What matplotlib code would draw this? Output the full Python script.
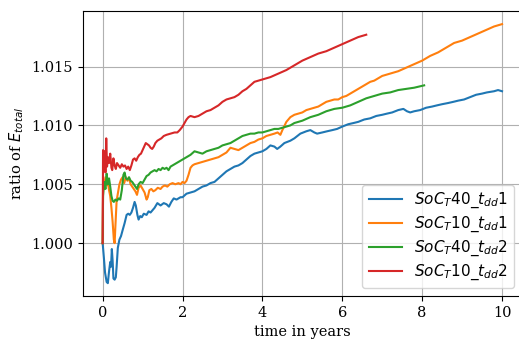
import matplotlib

matplotlib.use("Agg")
import matplotlib.pyplot as plt

plt.rcParams["font.family"] = "serif"
plt.rcParams["font.size"] = 10.5

# SoC_T40_t_dd1 (blue)
blue_t = [0.00, 0.03, 0.06, 0.10, 0.13, 0.16, 0.19, 0.21, 0.23, 0.25, 0.27, 0.30,
          0.33, 0.35, 0.38, 0.42, 0.46, 0.50, 0.55, 0.60, 0.64, 0.68, 0.72, 0.76,
          0.80, 0.83, 0.87, 0.90, 0.94, 0.98, 1.03, 1.10, 1.15, 1.20, 1.25, 1.30,
          1.37, 1.45, 1.53, 1.60, 1.66, 1.72, 1.78, 1.85, 1.95,
          2.00, 2.10, 2.20, 2.30, 2.40, 2.50, 2.60, 2.70, 2.80, 2.90, 3.00, 3.10,
          3.20, 3.30, 3.40, 3.50, 3.60, 3.70, 3.80, 3.90, 4.00, 4.10, 4.20, 4.30,
          4.37, 4.45, 4.55, 4.70, 4.80, 4.95, 5.10, 5.20, 5.30, 5.37, 5.50, 5.62,
          5.75, 5.87, 6.00, 6.15, 6.28, 6.40, 6.55, 6.70, 6.85, 7.00, 7.12, 7.25,
          7.40, 7.53, 7.62, 7.70, 7.80, 7.95, 8.10, 8.25, 8.37, 8.50, 8.65, 8.78,
          8.90, 9.05, 9.20, 9.35, 9.50, 9.62, 9.80, 9.90, 10.00]
blue_v = [1.0000, 0.9988, 0.9975, 0.9967, 0.9966, 0.9976, 0.9984, 0.9980, 0.9995,
          0.9985, 0.9970, 0.9969, 0.9971, 0.9980, 0.9996, 1.0003, 1.0006, 1.0011,
          1.0017, 1.0024, 1.0025, 1.0024, 1.0026, 1.0030, 1.0035, 1.0032, 1.0024,
          1.0020, 1.0023, 1.0022, 1.0025, 1.0024, 1.0027, 1.0026, 1.0028, 1.0030,
          1.0034, 1.0032, 1.0034, 1.0033, 1.0031, 1.0035, 1.0038, 1.0037, 1.0039,
          1.0039, 1.0042, 1.0043, 1.0044, 1.0046, 1.0048, 1.0049, 1.0051, 1.0052,
          1.0055, 1.0058, 1.0061, 1.0063, 1.0065, 1.0066, 1.0068, 1.0071, 1.0074,
          1.0076, 1.0077, 1.0078, 1.0080, 1.0083, 1.0082, 1.0080, 1.0082, 1.0085,
          1.0087, 1.0089, 1.0093, 1.0095, 1.0096, 1.0094, 1.0093, 1.0094, 1.0095,
          1.0096, 1.0097, 1.0099, 1.0101, 1.0102, 1.0103, 1.0105, 1.0106, 1.0108,
          1.0109, 1.0110, 1.0111, 1.0113, 1.0114, 1.0112, 1.0111, 1.0112, 1.0113,
          1.0115, 1.0116, 1.0117, 1.0118, 1.0119, 1.0120, 1.0121, 1.0122, 1.0124,
          1.0126, 1.0127, 1.0128, 1.0129, 1.0130, 1.0129]

# SoC_T10_t_dd1 (orange)
orange_t = [0.00, 0.01, 0.04, 0.07, 0.10, 0.13, 0.16, 0.19, 0.22, 0.25, 0.28, 0.30,
            0.32, 0.35, 0.38, 0.42, 0.46, 0.50, 0.54, 0.58, 0.62, 0.66, 0.70, 0.74,
            0.78, 0.82, 0.86, 0.90, 0.95, 1.00, 1.05, 1.10, 1.13, 1.17, 1.22, 1.27,
            1.32, 1.38, 1.45, 1.50, 1.56, 1.62, 1.68, 1.75, 1.82, 1.90, 1.95, 2.00,
            2.05, 2.10, 2.15, 2.20, 2.25, 2.30, 2.40, 2.50, 2.60, 2.70, 2.80, 2.90,
            3.00, 3.10, 3.20, 3.30, 3.40, 3.50, 3.60, 3.70, 3.80, 3.90, 4.00, 4.10,
            4.20, 4.30, 4.38, 4.45, 4.50, 4.60, 4.70, 4.80, 4.90, 5.00, 5.10, 5.20,
            5.30, 5.40, 5.50, 5.60, 5.70, 5.80, 5.90, 6.00, 6.10, 6.20, 6.30, 6.40,
            6.50, 6.60, 6.70, 6.80, 6.90, 7.00, 7.20, 7.40, 7.60, 7.80, 8.00, 8.20,
            8.40, 8.60, 8.80, 9.00, 9.20, 9.40, 9.60, 9.80, 10.00]
orange_v = [1.0000, 1.0045, 1.0050, 1.0056, 1.0049, 1.0052, 1.0045, 1.0040, 1.0030,
            1.0018, 1.0003, 1.0000, 1.0015, 1.0036, 1.0042, 1.0050, 1.0054, 1.0056,
            1.0051, 1.0056, 1.0053, 1.0055, 1.0050, 1.0048, 1.0046, 1.0044, 1.0041,
            1.0047, 1.0049, 1.0046, 1.0043, 1.0037, 1.0039, 1.0045, 1.0046, 1.0044,
            1.0045, 1.0047, 1.0046, 1.0048, 1.0049, 1.0048, 1.0050, 1.0051, 1.0050,
            1.0051, 1.0050, 1.0052, 1.0051, 1.0053, 1.0058, 1.0064, 1.0066, 1.0067,
            1.0068, 1.0069, 1.0070, 1.0071, 1.0072, 1.0073, 1.0075, 1.0077, 1.0081,
            1.0080, 1.0079, 1.0081, 1.0083, 1.0085, 1.0086, 1.0088, 1.0089, 1.0091,
            1.0092, 1.0093, 1.0094, 1.0092, 1.0096, 1.0103, 1.0107, 1.0109, 1.0110,
            1.0111, 1.0113, 1.0114, 1.0115, 1.0116, 1.0118, 1.0120, 1.0121, 1.0122,
            1.0122, 1.0124, 1.0125, 1.0127, 1.0129, 1.0131, 1.0133, 1.0135, 1.0137,
            1.0138, 1.0140, 1.0142, 1.0144, 1.0146, 1.0149, 1.0152, 1.0155, 1.0159,
            1.0162, 1.0166, 1.0170, 1.0172, 1.0175, 1.0178, 1.0181, 1.0184, 1.0186]

# SoC_T40_t_dd2 (green)
green_t = [0.00, 0.01, 0.04, 0.07, 0.10, 0.13, 0.16, 0.19, 0.22, 0.25, 0.28, 0.32,
           0.36, 0.40, 0.44, 0.48, 0.52, 0.55, 0.58, 0.62, 0.66, 0.70, 0.74, 0.78,
           0.82, 0.86, 0.90, 0.95, 1.00, 1.05, 1.10, 1.15, 1.20, 1.25, 1.30, 1.35,
           1.40, 1.45, 1.50, 1.55, 1.60, 1.65, 1.70, 1.75, 1.80, 1.90, 2.00, 2.10,
           2.20, 2.30, 2.40, 2.50, 2.60, 2.70, 2.80, 2.90, 3.00, 3.10, 3.20, 3.30,
           3.40, 3.50, 3.60, 3.70, 3.80, 3.90, 4.00, 4.10, 4.20, 4.30, 4.40, 4.50,
           4.60, 4.70, 4.80, 4.90, 5.00, 5.20, 5.40, 5.60, 5.80, 6.00, 6.20, 6.40,
           6.60, 6.80, 7.00, 7.20, 7.40, 7.60, 7.80, 8.05]
green_v = [1.0000, 1.0040, 1.0052, 1.0046, 1.0059, 1.0050, 1.0055, 1.0048, 1.0040,
           1.0036, 1.0035, 1.0037, 1.0036, 1.0038, 1.0037, 1.0045, 1.0058, 1.0060,
           1.0055, 1.0054, 1.0056, 1.0053, 1.0052, 1.0050, 1.0048, 1.0046, 1.0050,
           1.0052, 1.0051, 1.0054, 1.0057, 1.0058, 1.0060, 1.0061, 1.0062, 1.0061,
           1.0063, 1.0062, 1.0064, 1.0063, 1.0064, 1.0062, 1.0065, 1.0066, 1.0067,
           1.0069, 1.0071, 1.0073, 1.0075, 1.0078, 1.0077, 1.0076, 1.0078, 1.0079,
           1.0080, 1.0081, 1.0083, 1.0084, 1.0085, 1.0087, 1.0089, 1.0091, 1.0092,
           1.0093, 1.0093, 1.0094, 1.0094, 1.0095, 1.0096, 1.0097, 1.0097, 1.0098,
           1.0099, 1.0100, 1.0102, 1.0103, 1.0104, 1.0107, 1.0109, 1.0112, 1.0114,
           1.0115, 1.0117, 1.0120, 1.0123, 1.0125, 1.0127, 1.0128, 1.0130, 1.0131,
           1.0132, 1.0134]

# SoC_T10_t_dd2 (red)
red_t = [0.00, 0.01, 0.03, 0.05, 0.07, 0.09, 0.11, 0.13, 0.16, 0.19, 0.22, 0.24,
         0.27, 0.30, 0.33, 0.36, 0.40, 0.44, 0.48, 0.52, 0.56, 0.60, 0.64, 0.68,
         0.72, 0.76, 0.80, 0.84, 0.88, 0.92, 0.96, 1.00, 1.04, 1.08, 1.12, 1.16,
         1.20, 1.24, 1.28, 1.32, 1.37, 1.42, 1.47, 1.53, 1.60, 1.70, 1.80, 1.87,
         1.93, 2.00, 2.05, 2.10, 2.15, 2.20, 2.30, 2.40, 2.50, 2.60, 2.70, 2.80,
         2.90, 3.00, 3.10, 3.20, 3.30, 3.40, 3.50, 3.60, 3.70, 3.80, 3.90, 4.00,
         4.10, 4.20, 4.40, 4.60, 4.80, 5.00, 5.20, 5.40, 5.60, 5.80, 6.00, 6.20,
         6.40, 6.60]
red_v = [1.0000, 1.0079, 1.0068, 1.0078, 1.0060, 1.0089, 1.0065, 1.0073, 1.0068,
         1.0076, 1.0064, 1.0062, 1.0072, 1.0066, 1.0063, 1.0068, 1.0066, 1.0064,
         1.0067, 1.0065, 1.0066, 1.0063, 1.0065, 1.0062, 1.0066, 1.0071, 1.0072,
         1.0070, 1.0073, 1.0075, 1.0076, 1.0079, 1.0082, 1.0085, 1.0084, 1.0083,
         1.0081, 1.0080, 1.0082, 1.0085, 1.0087, 1.0088, 1.0089, 1.0091, 1.0092,
         1.0093, 1.0094, 1.0094, 1.0096, 1.0099, 1.0102, 1.0105, 1.0107, 1.0108,
         1.0107, 1.0108, 1.0110, 1.0112, 1.0113, 1.0115, 1.0117, 1.0120, 1.0122,
         1.0123, 1.0124, 1.0126, 1.0129, 1.0131, 1.0134, 1.0137, 1.0138, 1.0139,
         1.0140, 1.0141, 1.0144, 1.0147, 1.0151, 1.0155, 1.0158, 1.0161, 1.0163,
         1.0166, 1.0169, 1.0172, 1.0175, 1.0177]

labels = [r"$SoC_T40\_t_{dd}1$", r"$SoC_T10\_t_{dd}1$",
          r"$SoC_T40\_t_{dd}2$", r"$SoC_T10\_t_{dd}2$"]

fig = plt.figure(figsize=(5.19, 3.44), dpi=100)
ax = fig.add_axes([0.1593, 0.1395, 0.8465, 0.8294])

ax.plot(blue_t, blue_v, label=labels[0])
ax.plot(orange_t, orange_v, label=labels[1])
ax.plot(green_t, green_v, label=labels[2])
ax.plot(red_t, red_v, label=labels[3])

ax.set_xlim(-0.5, 10.5)
ax.set_ylim(0.99551, 1.01974)
ax.set_yticks([1.000, 1.005, 1.010, 1.015])
ax.set_xticks([0, 2, 4, 6, 8, 10])
ax.grid(True)
ax.set_xlabel("time in years")
ax.set_ylabel(r"ratio of $E_{total}$")
ax.legend(loc="lower right", fontsize=11, labelspacing=0.3,
          handlelength=2.2, borderaxespad=0.5)

fig.savefig("out.png", dpi=100)
